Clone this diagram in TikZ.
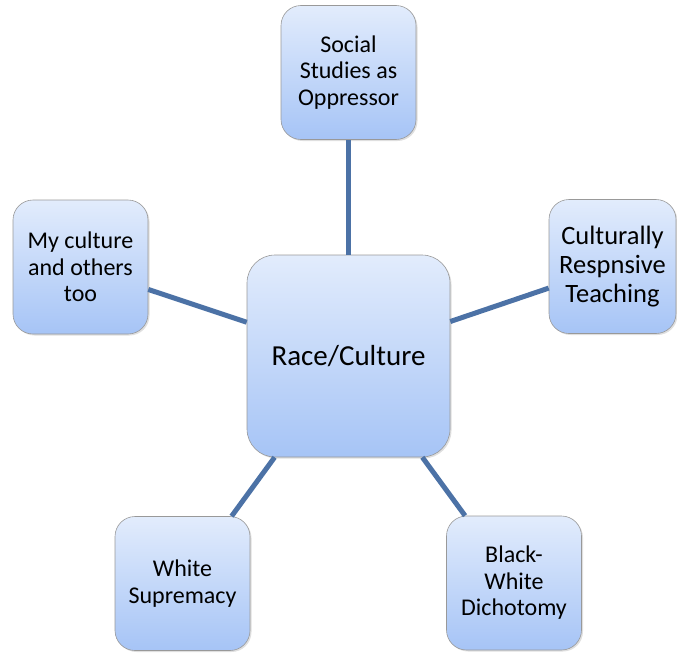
\documentclass[tikz,border=0pt]{standalone}
\usepackage{fontspec}
\setmainfont{Carlito}
\usetikzlibrary{shadows}
\definecolor{boxtop}{RGB}{226,236,252}
\definecolor{boxbottom}{RGB}{166,196,246}
\definecolor{linkblue}{RGB}{76,114,166}

\begin{document}
\begin{tikzpicture}[x=1pt,y=-1pt,
  topic/.style={draw=gray!80,line width=0.6pt,rounded corners=20pt,
    top color=boxtop,bottom color=boxbottom,
    drop shadow={opacity=0.25,shadow xshift=1.5pt,shadow yshift=-1.5pt},
    minimum width=135pt,minimum height=134pt,inner sep=0pt,align=center,
    font=\fontsize{24}{26.5}\selectfont},
  hub/.style={topic,rounded corners=28pt,minimum width=203pt,minimum height=202pt,
    font=\fontsize{29}{32}\selectfont},
  link/.style={line width=5pt,color=linkblue}]
\useasboundingbox (0,0) rectangle (677,653);

\node[hub] (race) at (348.5,356) {Race/Culture};
\node[topic] (social) at (348.5,72.5) {Social\\Studies as\\Oppressor};
\node[topic] (mine) at (80.5,267) {My culture\\and others\\too};
\node[topic,minimum width=127pt,font=\fontsize{26.5}{29}\selectfont] (crt) at (612.5,266.5) {Culturally\\Respnsive\\Teaching};
\node[topic] (supremacy) at (182.5,583.5) {White\\Supremacy};
\node[topic] (dichotomy) at (514,583) {Black-\\White\\Dichotomy};

\draw[link] (race) -- (social);
\draw[link] (race) -- (mine);
\draw[link] (race) -- (crt);
\draw[link] (race) -- (supremacy);
\draw[link] (race) -- (dichotomy);
\end{tikzpicture}
\end{document}
